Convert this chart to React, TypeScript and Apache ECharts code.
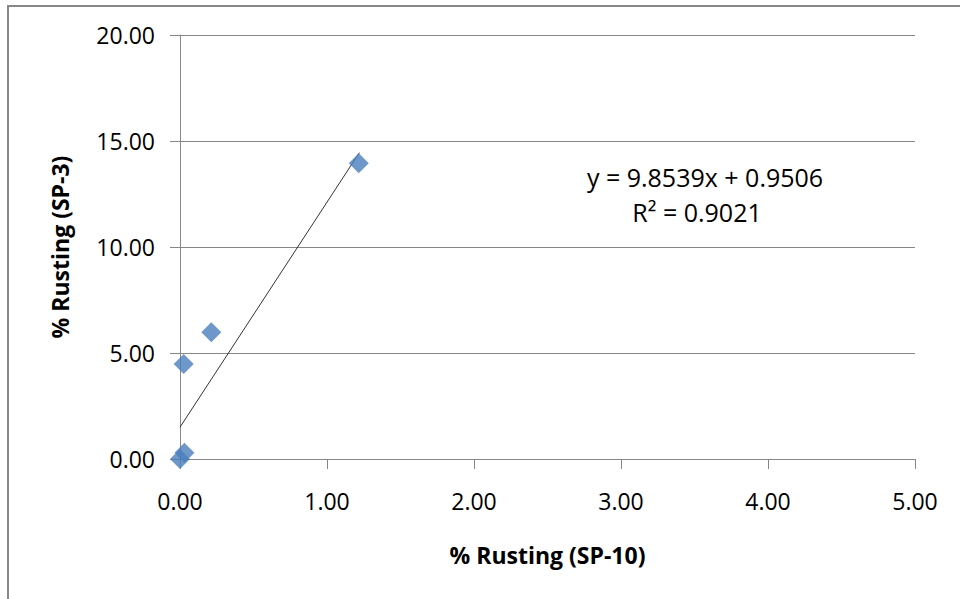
import React, { useEffect, useRef } from "react";
import * as echarts from "echarts";

const sp10 = [0.0, 0.03, 0.025, 0.213, 1.216];
const sp3 = [0.0, 0.3, 4.48, 5.98, 13.95];
const trendX = [0, 1.22];
const trendY = [1.5, 14.45];
const xTicks = { min: 0, max: 5, interval: 1 };
const yTicks = { min: 0, max: 20, interval: 5 };
const equationLines = ["y = 9.8539x + 0.9506", "R² = 0.9021"];
const xTitle = "% Rusting (SP-10)";
const yTitle = "% Rusting (SP-3)";

const FONT = "'Open Sans', 'Noto Sans', sans-serif";
const GRAY = "#878787";

export default function App() {
  const ref = useRef<HTMLDivElement>(null);
  useEffect(() => {
    if (!ref.current) return;
    const chart = echarts.init(ref.current, null, { renderer: "svg" });
    const points = sp10.map((x, i) => [x, sp3[i]]);
    const trend = trendX.map((x, i) => [x, trendY[i]]);
    chart.setOption({
      animation: false,
      backgroundColor: "#ffffff",
      grid: { left: 180, right: 45, top: 35, bottom: 140, containLabel: false },
      xAxis: {
        type: "value",
        min: xTicks.min,
        max: xTicks.max,
        interval: xTicks.interval,
        name: xTitle,
        nameLocation: "middle",
        nameGap: 84,
        nameTextStyle: { fontFamily: FONT, fontSize: 23, fontWeight: "bold", color: "#000" },
        axisLine: { show: true, lineStyle: { color: GRAY, width: 1 } },
        axisTick: { show: true, inside: false, length: 10, lineStyle: { color: GRAY } },
        axisLabel: {
          margin: 30,
          fontFamily: FONT,
          fontSize: 23,
          color: "#000",
          formatter: (v: number) => v.toFixed(2),
        },
        splitLine: { show: false },
      },
      yAxis: {
        type: "value",
        min: yTicks.min,
        max: yTicks.max,
        interval: yTicks.interval,
        name: yTitle,
        nameLocation: "middle",
        nameGap: 109,
        nameTextStyle: { fontFamily: FONT, fontSize: 23, fontWeight: "bold", color: "#000" },
        axisLine: { show: true, lineStyle: { color: GRAY, width: 1 } },
        axisTick: { show: true, inside: false, length: 10, lineStyle: { color: GRAY } },
        axisLabel: {
          margin: 25,
          fontFamily: FONT,
          fontSize: 23,
          color: "#000",
          formatter: (v: number) => v.toFixed(2),
        },
        splitLine: { show: true, lineStyle: { color: GRAY, width: 1 } },
      },
      series: [
        {
          type: "line",
          data: trend,
          showSymbol: false,
          symbol: "none",
          lineStyle: { color: "#333333", width: 1 },
          z: 2,
          silent: true,
        },
        {
          type: "scatter",
          data: points,
          symbol: "diamond",
          symbolSize: [20, 20],
          clip: false,
          itemStyle: { color: "#4A7EBB" },
          z: 3,
        },
      ],
      graphic: [
        {
          type: "rect",
          shape: { x: 8, y: 6, width: 1200, height: 900 },
          style: { fill: "none", stroke: GRAY, lineWidth: 2 },
          silent: true,
          z: 100,
        },
        {
          type: "text",
          x: 705,
          y: 177,
          style: {
            text: equationLines[0],
            fontFamily: FONT,
            fontSize: 25,
            fill: "#000",
            textAlign: "center",
            textVerticalAlign: "middle",
          },
        },
        {
          type: "text",
          x: 697,
          y: 212,
          style: {
            text: equationLines[1],
            fontFamily: FONT,
            fontSize: 25,
            fill: "#000",
            textAlign: "center",
            textVerticalAlign: "middle",
          },
        },
      ],
    });
    return () => chart.dispose();
  }, []);
  return (
    <div
      ref={ref}
      style={{ position: "fixed", left: 0, top: 0, width: 960, height: 599, background: "#fff" }}
    />
  );
}
